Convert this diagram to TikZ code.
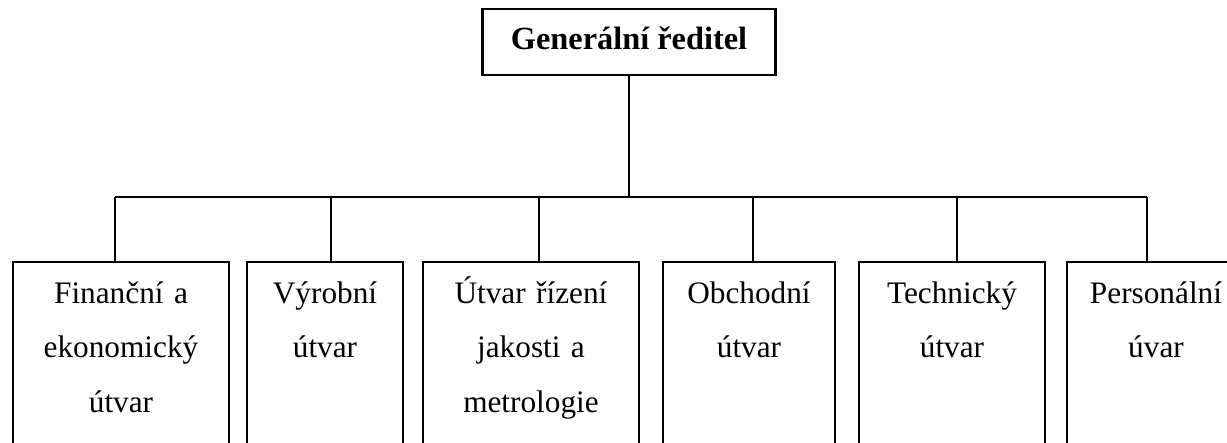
\documentclass[tikz,border=0pt]{standalone}
\usepackage{fontspec}
\setmainfont{Liberation Serif}
\tikzset{
  unit/.style={draw, anchor=north, inner xsep=0pt, inner ysep=0pt, align=center, text height=0.41cm, text depth=2cm},
  chief/.style={draw, inner xsep=0pt, inner ysep=0pt, minimum width=2.93cm, text height=0.41cm, text depth=0.25cm, font=\fontsize{9.2}{15.6}\selectfont\bfseries}
}
\begin{document}
\begin{tikzpicture}[line width=0.6pt, font=\fontsize{8.9}{15.6}\selectfont]

        \useasboundingbox (0, 0) rectangle (12.27, -4.43);
        \clip (0, 0) rectangle (12.27, -4.43);

        \draw (6.29, -0.42) node[chief] (G) {Generální ředitel};

        \draw (1.21, -2.61) node[unit, text width=2.16cm] (A) {Finanční a\\ekonomický\\útvar};
        \draw (3.25, -2.61) node[unit, text width=1.56cm] (B) {Výrobní\\útvar};
        \draw (5.31, -2.61) node[unit, text width=2.16cm] (C) {Útvar řízení\\jakosti a\\metrologie};
        \draw (7.49, -2.61) node[unit, text width=1.72cm] (D) {Obchodní\\útvar};
        \draw (9.52, -2.61) node[unit, text width=1.86cm] (E) {Technický\\útvar};
        \draw (11.56, -2.61) node[unit, text width=1.78cm] (F) {Personální\\úvar};

        \coordinate (a) at (1.15, -1.97);
        \coordinate (b) at (3.31, -1.97);
        \coordinate (c) at (5.39, -1.97);
        \coordinate (d) at (7.53, -1.97);
        \coordinate (e) at (9.57, -1.97);
        \coordinate (f) at (11.47, -1.97);

        \draw (G.south) -- (G.south |- a);
        \draw (a) -- (f);
        \draw (a) -- (a |- A.north);
        \draw (b) -- (b |- B.north);
        \draw (c) -- (c |- C.north);
        \draw (d) -- (d |- D.north);
        \draw (e) -- (e |- E.north);
        \draw (f) -- (f |- F.north);

\end{tikzpicture}
\end{document}
